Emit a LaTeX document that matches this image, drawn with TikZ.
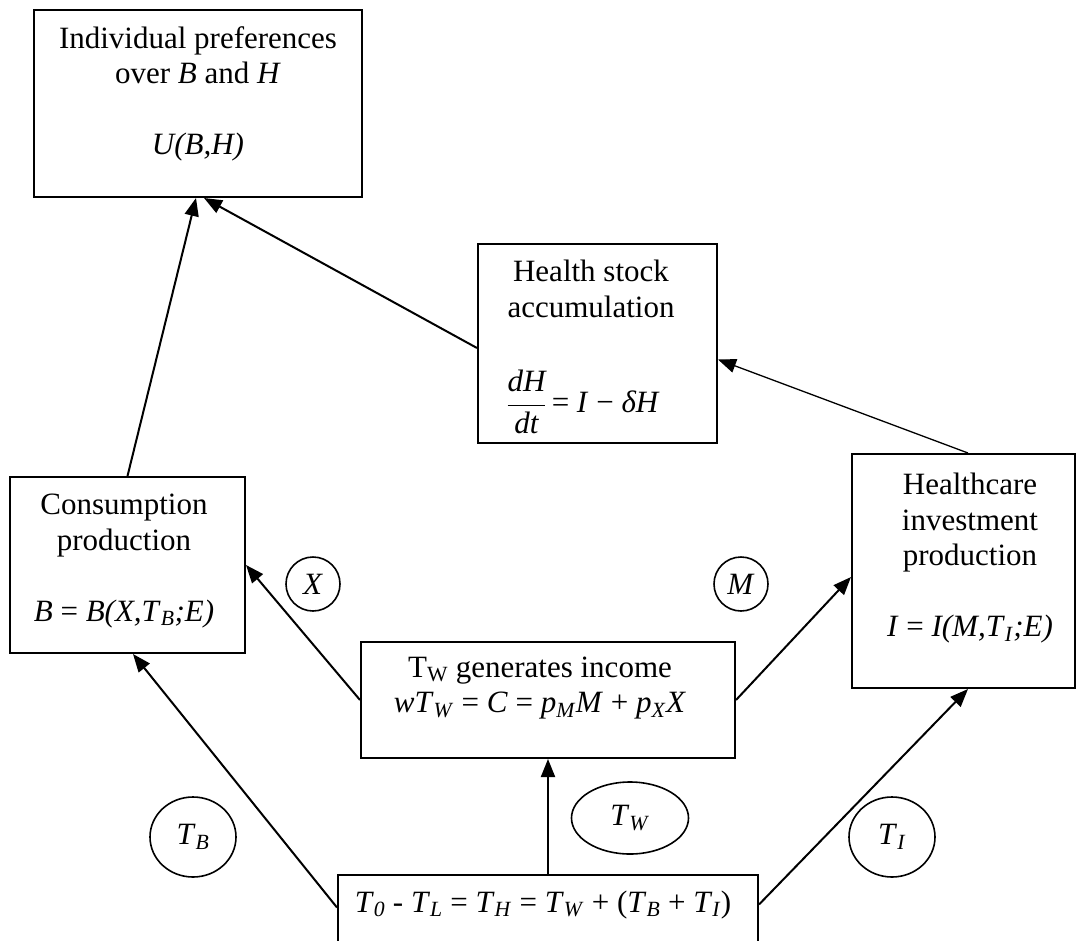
\RequirePackage{fix-cm}
\documentclass[tikz,border=0pt]{standalone}
\usepackage{fontspec}
\setmainfont{Liberation Serif}
\usetikzlibrary{arrows.meta,shapes.geometric,calc}

\begin{document}
\begin{tikzpicture}[x=1pt, y=-1pt,
    font=\fontsize{31}{35.5}\selectfont,
    box/.style={draw, line width=2pt, inner sep=0pt},
    txt/.style={align=center, inner sep=0pt},
    oval/.style={draw, ellipse, line width=1.6pt, inner sep=0pt},
    link/.style={-{Triangle[length=18pt,width=14pt]}, line width=2pt}]
                \useasboundingbox (0,0) rectangle (1076,940);
                \clip (0,0) rectangle (1076,940);
                \node[box, minimum width=328, minimum height=187] (pref) at (198,103.5) {};
                \node[box, minimum width=239, minimum height=199] (health) at (597.5,343.5) {};
                \node[box, minimum width=235, minimum height=176] (cons) at (127.5,565) {};
                \node[box, minimum width=223, minimum height=234] (hcare) at (963.5,571) {};
                \node[box, minimum width=374, minimum height=116] (income) at (548,700) {};
                \node[box, minimum width=420, minimum height=85] (time) at (548,917.5) {};
                \node[txt] (preftext) at (198,94) {Individual preferences\\over \textit{B} and \textit{H}\\[35.5pt]\textit{U(B,H)}};
                \node[txt] (healthtext) at (591,289) {Health stock\\accumulation};
                \node[txt] (healtheq) at (583,402) {$\displaystyle\frac{\textit{dH}}{\textit{dt}}$\,= \textit{I} − \textit{δH}};
                \node[txt] (constext) at (124,561) {Consumption\\production\\[35.5pt]\textit{B} = \textit{B(X,T}\textsubscript{\textit{B}}\textit{;E)}};
                \node[txt] (hcaretext) at (970,558.5) {Healthcare\\investment\\production\\[35.5pt]\textit{I} = \textit{I(M,T}\textsubscript{\textit{I}}\textit{;E)}};
                \node[txt] (incometext) at (540,688) {T\textsubscript{W} generates income\\\textit{wT}\textsubscript{\textit{W}} = \textit{C} = \textit{p}\textsubscript{\textit{M}}\textit{M} + \textit{p}\textsubscript{\textit{X}}\textit{X}};
                \node[txt, anchor=base] (timetext) at (543,912) {\textit{T}\textsubscript{\textit{0}} - \textit{T}\textsubscript{\textit{L}} = \textit{T}\textsubscript{\textit{H}} = \textit{T}\textsubscript{\textit{W}} + (\textit{T}\textsubscript{\textit{B}} + \textit{T}\textsubscript{\textit{I}})};
                \node[oval, minimum width=54, minimum height=54] (xin) at (313,584) {\textit{X}};
                \node[oval, minimum width=54, minimum height=54] (min) at (741,584) {\textit{M}};
                \node[oval, minimum width=86, minimum height=80] (tb) at (193,837) {\textit{T}\textsubscript{\textit{B}}};
                \node[oval, minimum width=117, minimum height=72] (tw) at (630,818) {\textit{T}\textsubscript{\textit{W}}};
                \node[oval, minimum width=86, minimum height=80] (ti) at (892,837) {\textit{T}\textsubscript{\textit{I}}};
                \draw[link] (cons.north) -- ($(pref.south)+(-2,0)$);
                \draw[link] ($(health.west)+(0,4.5)$) -- ($(pref.south)+(6,0)$);
                \draw[link, line width=1.3pt] ($(hcare.north)+(4.5,0)$) -- ($(health.east)+(0,16)$);
                \draw[link] (income.west) -- (cons.east);
                \draw[link] (income.east) -- ($(hcare.west)+(0,6)$);
                \draw[link] (time.north) -- (income.south);
                \draw[link] ($(time.west)+(0,-10)$) -- ($(cons.south)+(5.5,0)$);
                \draw[link] ($(time.east)+(0,-13)$) -- ($(hcare.south)+(4.5,0)$);
            \end{tikzpicture}
\end{document}
